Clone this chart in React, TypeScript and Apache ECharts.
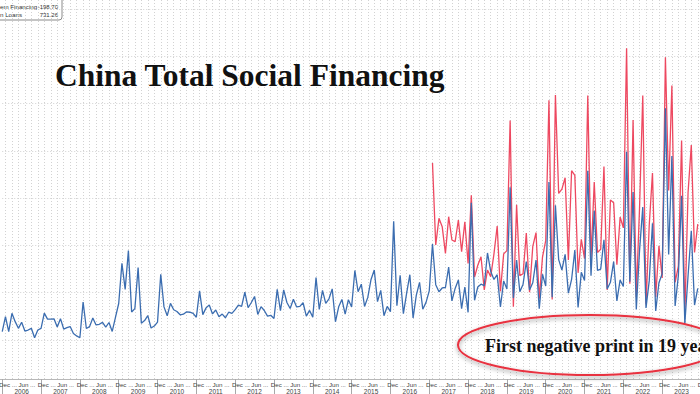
import React, { useEffect, useRef } from "react";
import * as echarts from "echarts";

// Month-end boundaries from end of Nov 2005 to end of Dec 2023
const FIRST_YEAR = 2006;
const LAST_YEAR = 2023;
const years: string[] = [];
for (let y = FIRST_YEAR; y <= LAST_YEAR; y++) years.push(String(y));

const monthEnds: string[] = ["2005-11", "2005-12"];
for (let y = FIRST_YEAR; y <= LAST_YEAR; y++) {
  for (let m = 1; m <= 12; m++) monthEnds.push(`${y}-${m < 10 ? "0" + m : m}`);
}

// New yuan loans (bn CNY), Dec 2005 .. Nov 2023
const loans2005 = [176];
const loans2006 = [493, 176, 564, 388, 247, 374, 190, 211, 247, 49, 211, 247];
const loans2007 = [567, 441, 442, 447, 273, 451, 232, 260, 285, 136, 86, 48];
const loans2008 = [804, 244, 283, 466, 319, 332, 373, 272, 370, 181, 477, 772];
const loans2009 = [1620, 1070, 1890, 592, 664, 1530, 356, 410, 517, 253, 295, 379];
const loans2010 = [1390, 700, 511, 774, 640, 603, 533, 545, 596, 587, 564, 481];
const loans2011 = [1040, 536, 679, 740, 551, 634, 492, 548, 470, 587, 562, 641];
const loans2012 = [738, 711, 1010, 682, 793, 920, 540, 704, 623, 505, 523, 454];
const loans2013 = [1070, 620, 1060, 793, 667, 860, 700, 711, 787, 506, 625, 483];
const loans2014 = [1320, 645, 1050, 775, 871, 1080, 385, 702, 857, 548, 853, 697];
const loans2015 = [1470, 1020, 1180, 708, 901, 1280, 1480, 810, 1050, 514, 709, 598];
const loans2016 = [2510, 727, 1370, 556, 985, 1380, 464, 949, 1220, 651, 795, 1040];
const loans2017 = [2030, 1170, 1020, 1100, 1110, 1540, 826, 1090, 1270, 663, 1120, 584];
const loans2018 = [2900, 839, 1120, 1180, 1150, 1840, 1450, 1280, 1380, 697, 1250, 1080];
const loans2019 = [3230, 886, 1690, 1020, 1180, 1660, 1060, 1210, 1690, 661, 1390, 1140];
const loans2020 = [3340, 906, 2850, 1700, 1480, 1810, 992, 1280, 1900, 689, 1430, 1260];
const loans2021 = [3580, 1360, 2730, 1470, 1500, 2120, 1080, 1220, 1660, 826, 1270, 1130];
const loans2022 = [3980, 1230, 3130, 645, 1890, 2810, 679, 1250, 2470, 615, 1210, 1400];
const loans2023 = [4900, 1810, 3890, 719, 1360, 3050, 346, 1358, 2310, 738, 1090];

// Total social financing (bn CNY), Jan 2017 .. Nov 2023
const tsf2017 = [3740, 2008, 2572, 2396, 1832, 2607, 2114, 2079, 2537, 1867, 2501, 1620];
const tsf2018 = [3060, 1330, 1580, 1760, 1060, 1480, 1340, 1820, 2410, 1029, 1820, 1890];
const tsf2019 = [4640, 703, 2860, 1360, 1400, 2260, 1010, 1980, 2270, 875, 1750, 2100];
const tsf2020 = [5070, 855, 5180, 3100, 3190, 3430, 1690, 3580, 3480, 1420, 2130, 1720];
const tsf2021 = [5170, 1710, 3340, 1850, 1920, 3670, 1060, 2960, 2900, 1590, 2600, 2370];
const tsf2022 = [6170, 1190, 4650, 910, 2790, 5170, 756, 2430, 3530, 908, 1990, 1310];
const tsf2023 = [5980, 3160, 5380, 1220, 1560, 4220, 528, 3120, 4120, 1850, 2450];

const legendRows = [
  { name: "em Financing", value: "-198.70" },
  { name: "n Loans", value: "731.26" },
];

const TITLE = "China Total Social Financing";
const NOTE = "First negative print in 19 years";

function buildSeries(firstIndex: number, values: number[]): (number | null)[] {
  const out: (number | null)[] = monthEnds.map(() => null);
  values.forEach((v, i) => {
    if (firstIndex + i < out.length) out[firstIndex + i] = v;
  });
  return out;
}

const loansAll = [
  ...loans2005, ...loans2006, ...loans2007, ...loans2008, ...loans2009, ...loans2010,
  ...loans2011, ...loans2012, ...loans2013, ...loans2014, ...loans2015, ...loans2016,
  ...loans2017, ...loans2018, ...loans2019, ...loans2020, ...loans2021, ...loans2022, ...loans2023,
];
const tsfAll = [...tsf2017, ...tsf2018, ...tsf2019, ...tsf2020, ...tsf2021, ...tsf2022, ...tsf2023];

export default function App() {
  const ref = useRef<HTMLDivElement>(null);
  useEffect(() => {
    if (!ref.current) return;
    const chart = echarts.init(ref.current, null, { renderer: "svg" });
    const blue = buildSeries(monthEnds.indexOf("2005-12"), loansAll);
    const red = buildSeries(monthEnds.indexOf("2017-01"), tsfAll);

    const zeroY = 340;
    const pxPer = 47.3 / 1000;
    const plotBottom = 379;
    const yMin = -(plotBottom - zeroY) / pxPer;
    const yMax = zeroY / pxPer;
    const monthW = 702 / (monthEnds.length - 1);
    const yearLeft = -1 + monthW;

    const dotted = { color: "#d2d2d2", type: [1, 2] as any, width: 1 };
    const axisFont = "Liberation Sans";

    chart.setOption({
      animation: false,
      backgroundColor: "#ffffff",
      grid: [
        { left: -1, right: -1, top: 0, bottom: 394 - plotBottom, outerBoundsMode: "none", containLabel: false },
        {
          left: yearLeft,
          right: -1,
          top: zeroY - 8000 * pxPer,
          bottom: 394 - (zeroY + 1000 * pxPer),
          outerBoundsMode: "none",
          containLabel: false,
        },
        { left: yearLeft, right: -1, top: 0, bottom: 394 - plotBottom, outerBoundsMode: "none", containLabel: false },
      ],
      xAxis: [
        {
          gridIndex: 0,
          type: "category",
          data: monthEnds,
          boundaryGap: false,
          axisLine: { show: true, onZero: false, lineStyle: { color: "#b8b8b8", width: 1 } },
          axisTick: { show: false },
          axisLabel: {
            interval: (idx: number) => idx % 6 === 0,
            formatter: (_v: string, idx: number) => (idx % 12 === 0 ? "Dec ..." : "Jun ..."),
            align: "left",
            fontSize: 6.2,
            margin: 2,
            color: "#444",
            fontFamily: axisFont,
          },
          splitLine: { show: true, interval: (idx: number) => idx % 2 === 0, lineStyle: dotted },
        },
        { gridIndex: 1, type: "value", show: false, min: 0, max: 1 },
        {
          gridIndex: 2,
          type: "category",
          data: years,
          boundaryGap: true,
          axisLine: { show: false, onZero: false },
          axisTick: { show: true, length: 15, interval: 0, lineStyle: { color: "#a8a8a8" } },
          axisLabel: { fontSize: 6.5, margin: 9, color: "#444", fontFamily: axisFont, interval: 0 },
          splitLine: { show: false },
        },
      ],
      yAxis: [
        { gridIndex: 0, type: "value", min: yMin, max: yMax, show: false, splitLine: { show: false } },
        {
          gridIndex: 1,
          type: "value",
          min: -1000,
          max: 8000,
          interval: 1000,
          axisLine: { show: false },
          axisTick: { show: false },
          axisLabel: { show: false },
          splitLine: { show: true, showMinLine: false, showMaxLine: false, lineStyle: dotted },
        },
        { gridIndex: 2, type: "value", show: false, splitLine: { show: false } },
      ],
      series: [
        {
          name: "New Yuan Loans",
          type: "line",
          xAxisIndex: 0,
          yAxisIndex: 0,
          data: blue,
          symbol: "none",
          connectNulls: false,
          lineStyle: { color: "#3b6db0", width: 1.3 },
          z: 3,
        },
        {
          name: "Total Social Financing",
          type: "line",
          xAxisIndex: 0,
          yAxisIndex: 0,
          data: red,
          symbol: "none",
          lineStyle: { color: "#ec3550", width: 1.3, opacity: 0.9 },
          z: 2,
        },
      ],
      graphic: [
        {
          type: "group",
          x: 0,
          y: 0,
          z: 20,
          children: [
            {
              type: "rect",
              shape: { x: -80, y: -4, width: 142, height: 24, r: 3 },
              style: { fill: "#ffffff", stroke: "#8a8a8a", lineWidth: 1 },
            },
            ...legendRows.flatMap((row, i) => [
              {
                type: "text",
                x: 0,
                y: 6.5 + i * 8,
                style: { text: row.name, fontSize: 6.2, fontFamily: axisFont, fill: "#333", verticalAlign: "middle" },
              },
              {
                type: "text",
                x: 58,
                y: 6.5 + i * 8,
                style: { text: row.value, fontSize: 6, fontFamily: axisFont, fill: "#333", align: "right", verticalAlign: "middle" },
              },
            ]),
          ],
        },
        {
          type: "text",
          x: 55,
          y: 75,
          style: {
            text: TITLE,
            fontSize: 31.5,
            fontWeight: "bold",
            fontFamily: "Liberation Serif",
            fill: "#111",
            verticalAlign: "middle",
          },
          z: 10,
        },
        {
          type: "ellipse",
          shape: { cx: 590, cy: 345, rx: 132, ry: 30 },
          style: {
            fill: "rgba(255,255,255,0)",
            stroke: "#e8313f",
            lineWidth: 2,
            shadowBlur: 4,
            shadowColor: "rgba(0,0,0,0.4)",
            shadowOffsetY: 2,
          },
          z: 10,
        },
        {
          type: "text",
          x: 485,
          y: 346,
          style: {
            text: NOTE,
            fontSize: 18,
            fontWeight: "bold",
            fontFamily: "Liberation Serif",
            fill: "#111",
            verticalAlign: "middle",
          },
          z: 10,
        },
      ],
    });
    return () => chart.dispose();
  }, []);
  return <div ref={ref} style={{ position: "fixed", left: 0, top: 0, width: 700, height: 394 }} />;
}
